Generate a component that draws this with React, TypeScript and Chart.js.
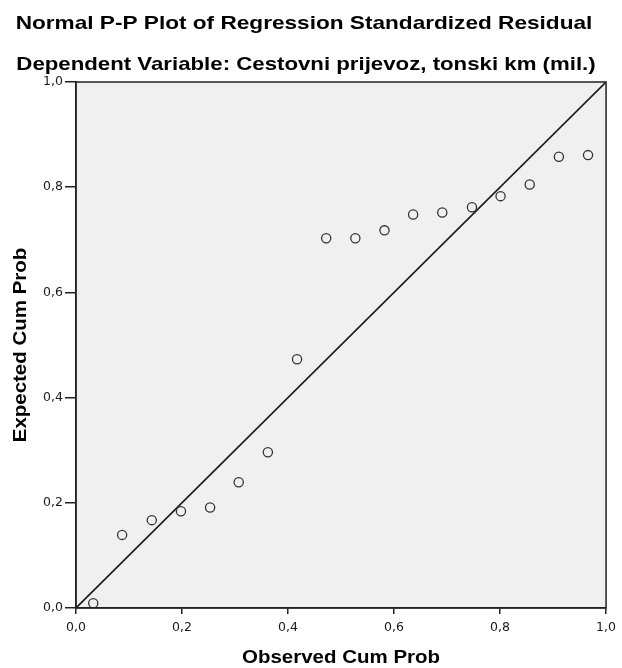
import React, { useEffect, useRef } from "react";
import { Chart, registerables } from "chart.js";

Chart.register(...registerables);

const chartTitle = "Normal P-P Plot of Regression Standardized Residual";
const chartSubtitle = "Dependent Variable: Cestovni prijevoz, tonski km (mil.)";
const xAxisTitle = "Observed Cum Prob";
const yAxisTitle = "Expected Cum Prob";

const observedCumProb = [
  0.0325, 0.087, 0.143, 0.198, 0.253, 0.307, 0.362, 0.417, 0.472,
  0.527, 0.582, 0.636, 0.691, 0.747, 0.801, 0.856, 0.911, 0.966,
];
const expectedCumProb = [
  0.009, 0.139, 0.167, 0.184, 0.191, 0.239, 0.296, 0.473, 0.703,
  0.703, 0.718, 0.748, 0.752, 0.762, 0.783, 0.805, 0.858, 0.861,
];
const referenceLineX = [0, 1];
const referenceLineY = [0, 1];
const tickValues = [0, 0.2, 0.4, 0.6, 0.8, 1.0];

const fmt = (v: number) => Number(v).toFixed(1).replace(".", ",");

function drawStretched(ctx: CanvasRenderingContext2D, text: string, x: number, y: number, sx: number, rotate = 0) {
  ctx.save();
  ctx.translate(x, y);
  if (rotate) ctx.rotate(rotate);
  ctx.scale(sx, 1);
  ctx.fillText(text, 0, 0);
  ctx.restore();
}

const frameAndTextPlugin = {
  id: "frameAndText",
  beforeDraw(chart: any) {
    const { ctx, chartArea } = chart;
    ctx.save();
    ctx.fillStyle = "#ffffff";
    ctx.fillRect(0, 0, chart.width, chart.height);
    ctx.fillStyle = "#f0f0f0";
    ctx.fillRect(chartArea.left, chartArea.top, chartArea.right - chartArea.left, chartArea.bottom - chartArea.top);
    ctx.restore();
  },
  afterDraw(chart: any) {
    const { ctx, chartArea } = chart;
    ctx.save();
    ctx.strokeStyle = "#222";
    ctx.lineWidth = 1.5;
    ctx.strokeRect(chartArea.left, chartArea.top, chartArea.right - chartArea.left, chartArea.bottom - chartArea.top);

    ctx.fillStyle = "#000";
    ctx.textAlign = "center";
    ctx.textBaseline = "alphabetic";
    ctx.font = 'bold 19px "Liberation Sans", Arial, sans-serif';
    drawStretched(ctx, chartTitle, 304, 29, 1.19);
    drawStretched(ctx, chartSubtitle, 306, 70, 1.17);

    const cx = (chartArea.left + chartArea.right) / 2;
    const cy = (chartArea.top + chartArea.bottom) / 2;
    ctx.font = 'bold 17.5px "Liberation Sans", Arial, sans-serif';
    drawStretched(ctx, xAxisTitle, cx, 663, 1.17);
    drawStretched(ctx, yAxisTitle, 26, cy, 1.17, -Math.PI / 2);
    ctx.restore();
  },
};

const axisCommon = (tickLength: number, padding: number) => ({
  type: "linear" as const,
  min: 0,
  max: 1,
  afterBuildTicks: (scale: any) => {
    scale.ticks = tickValues.map((v) => ({ value: v }));
  },
  ticks: {
    callback: (v: any) => fmt(v),
    font: { family: '"DejaVu Sans", Verdana, sans-serif', size: 12.5 },
    color: "#1a1a1a",
    padding,
    autoSkip: false,
    maxRotation: 0,
  },
  grid: {
    display: true,
    drawOnChartArea: false,
    drawTicks: true,
    tickLength,
    color: "#222",
    lineWidth: 1.5,
  },
  border: { display: true, color: "#222", width: 1.5 },
  title: { display: false },
});

export default function App() {
  const canvasRef = useRef<HTMLCanvasElement | null>(null);

  useEffect(() => {
    if (!canvasRef.current) return;
    const chart = new Chart(canvasRef.current, {
      type: "scatter",
      data: {
        datasets: [
          {
            type: "line",
            data: referenceLineX.map((x, i) => ({ x, y: referenceLineY[i] })),
            borderColor: "#1a1a1a",
            borderWidth: 1.6,
            pointRadius: 0,
            fill: false,
            order: 2,
          } as any,
          {
            type: "scatter",
            data: observedCumProb.map((x, i) => ({ x, y: expectedCumProb[i] })),
            pointRadius: 4.6,
            pointBorderColor: "#333",
            pointBackgroundColor: "rgba(0,0,0,0)",
            pointBorderWidth: 1.3,
            order: 1,
          },
        ],
      },
      options: {
        responsive: false,
        animation: false,
        layout: { padding: { left: 0, top: 82, right: 12, bottom: 0 } },
        plugins: {
          legend: { display: false },
          tooltip: { enabled: false },
          title: { display: false },
        },
        scales: {
          x: {
            ...axisCommon(6, 6),
            afterFit: (s: any) => {
              s.height = 60;
            },
          },
          y: {
            ...axisCommon(11, 2),
            afterFit: (s: any) => {
              s.width = 76;
            },
          },
        } as any,
      },
      plugins: [frameAndTextPlugin],
    });
    return () => chart.destroy();
  }, []);

  return (
    <div style={{ position: "absolute", left: 0, top: 0, width: 622, height: 668 }}>
      <canvas ref={canvasRef} width={622} height={668} style={{ width: 622, height: 668 }} />
    </div>
  );
}
